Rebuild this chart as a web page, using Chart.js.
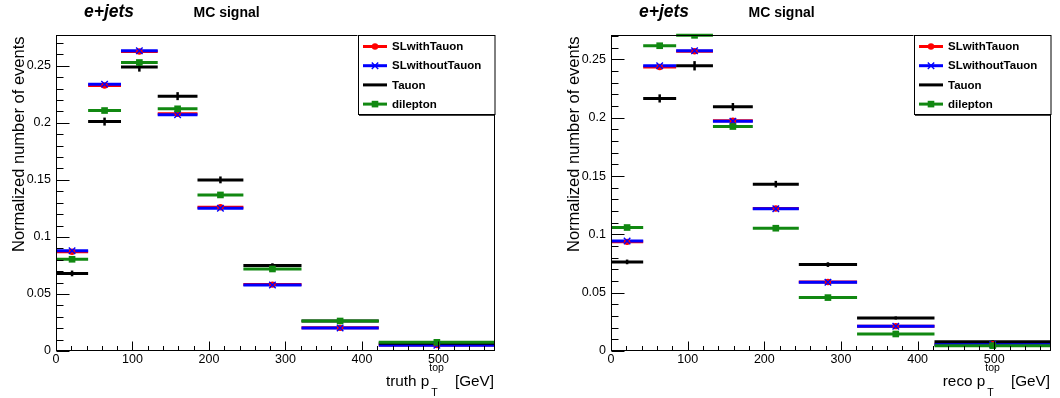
<!DOCTYPE html>
<html>
<head>
<meta charset="utf-8">
<script src="https://cdn.jsdelivr.net/npm/chart.js@4.4.1/dist/chart.umd.min.js"></script>
<style>
  html, body { margin: 0; padding: 0; background: #fff; }
  #wrap { display: flex; width: 1060px; height: 398px; }
  .pad { position: relative; width: 530px; height: 398px; }
</style>
</head>
<body>
<div id="wrap">
  <div class="pad"><canvas id="truth_chart"></canvas></div>
  <div class="pad"><canvas id="reco_chart"></canvas></div>
</div>
<script>
// bin edges of the top pT histograms [GeV]
const binEdges = [0, 42, 85, 133, 185, 245, 321, 422, 574];

// truth level
const truthSLwithTauon    = [0.0870, 0.2327, 0.2625, 0.2079, 0.1260, 0.0582, 0.0203, 0.0053];
const truthSLwithoutTauon = [0.0878, 0.2339, 0.2632, 0.2072, 0.1252, 0.0578, 0.0201, 0.0050];
const truthTauon          = [0.0680, 0.2011, 0.2489, 0.2234, 0.1500, 0.0749, 0.0263, 0.0068];
const truthTauonErr       = [0.0025, 0.0035, 0.0040, 0.0035, 0.0030, 0.0020, 0.0013, 0.0010];
const truthDilepton       = [0.0804, 0.2108, 0.2529, 0.2123, 0.1368, 0.0719, 0.0263, 0.0076];

// reco level
const recoSLwithTauon    = [0.0936, 0.2435, 0.2570, 0.1975, 0.1222, 0.0592, 0.0213, 0.0058];
const recoSLwithoutTauon = [0.0944, 0.2446, 0.2575, 0.1970, 0.1219, 0.0590, 0.0212, 0.0056];
const recoTauon          = [0.0764, 0.2166, 0.2446, 0.2094, 0.1431, 0.0741, 0.0283, 0.0080];
const recoTauonErr       = [0.0020, 0.0035, 0.0040, 0.0033, 0.0028, 0.0020, 0.0013, 0.0010];
const recoDilepton       = [0.1059, 0.2618, 0.2707, 0.1925, 0.1053, 0.0458, 0.0146, 0.0046];

const xTicks = [0, 100, 200, 300, 400, 500];
const xTickLabels = ['0', '100', '200', '300', '400', '500'];
const yTicks = [0, 0.05, 0.1, 0.15, 0.2, 0.25];
const yTickLabels = ['0', '0.05', '0.1', '0.15', '0.2', '0.25'];

const FONT = '"Liberation Sans", Arial, Helvetica, sans-serif';
const GREEN = '#118811';

function points(vals) {
  return vals.map((v, i) => ({ x: (binEdges[i] + binEdges[i + 1]) / 2, y: v }));
}

function line(ctx, x1, y1, x2, y2) {
  ctx.beginPath();
  ctx.moveTo(x1, y1);
  ctx.lineTo(x2, y2);
  ctx.stroke();
}

function marker(ctx, style, color, px, py) {
  ctx.fillStyle = color;
  ctx.strokeStyle = color;
  if (style === 'circle') {
    ctx.beginPath();
    ctx.arc(px, py, 3.2, 0, Math.PI * 2);
    ctx.fill();
  } else if (style === 'crossRot') {
    ctx.lineWidth = 1.4;
    line(ctx, px - 3.2, py - 3.2, px + 3.2, py + 3.2);
    line(ctx, px - 3.2, py + 3.2, px + 3.2, py - 3.2);
  } else if (style === 'rect') {
    ctx.fillRect(px - 3.3, py - 3.3, 6.6, 6.6);
  }
}

// ROOT-like pad: bin bars, inward ticks, frame, titles, legend
const rootPad = {
  id: 'rootPad',
  beforeDatasetsDraw(chart) {
    const ctx = chart.ctx;
    const xs = chart.scales.x, ys = chart.scales.y;
    const area = chart.chartArea;
    const metas = chart.getSortedVisibleDatasetMetas().slice().reverse();
    ctx.save();
    ctx.beginPath();
    ctx.rect(area.left, area.top - 2, area.width, area.height + 2);
    ctx.clip();
    for (const meta of metas) {
      const ds = chart.data.datasets[meta.index];
      ctx.strokeStyle = ds.borderColor;
      ds.data.forEach((p, i) => {
        const py = ys.getPixelForValue(p.y);
        ctx.lineWidth = 3;
        line(ctx, xs.getPixelForValue(binEdges[i]), py, xs.getPixelForValue(binEdges[i + 1]), py);
        if (ds.errs) {
          const px = xs.getPixelForValue(p.x);
          ctx.lineWidth = 2.5;
          line(ctx, px, ys.getPixelForValue(p.y - ds.errs[i]), px, ys.getPixelForValue(p.y + ds.errs[i]));
        }
      });
    }
    ctx.restore();
  },
  afterDraw(chart, args, opts) {
    const ctx = chart.ctx;
    const xs = chart.scales.x, ys = chart.scales.y;
    const a = chart.chartArea;
    const L = Math.round(a.left) + 0.5, R = Math.round(a.right) - 0.5;
    const T = Math.round(a.top) + 0.5, B = Math.round(a.bottom) - 0.5;
    ctx.save();
    ctx.strokeStyle = '#000';
    ctx.lineWidth = 1;
    ctx.strokeRect(L, T, R - L, B - T);

    // x ticks, minor every 20
    for (let k = 0; k * 20 <= xs.max; k++) {
      const px = Math.round(xs.getPixelForValue(k * 20)) + 0.5;
      line(ctx, px, B, px, B - (k % 5 === 0 ? 9 : 4.5));
    }
    // y ticks, minor every 0.01
    for (let k = 0; k * 0.01 <= ys.max; k++) {
      const py = Math.round(ys.getPixelForValue(k * 0.01)) + 0.5;
      line(ctx, L, py, L + (k % 5 === 0 ? 13 : 7), py);
    }

    // pad titles
    ctx.fillStyle = '#000';
    ctx.textBaseline = 'alphabetic';
    ctx.textAlign = 'left';
    ctx.font = 'italic bold 17.5px ' + FONT;
    ctx.fillText('e+jets', a.left + 28, 16.5);
    ctx.font = 'bold 14px ' + FONT;
    ctx.fillText('MC signal', a.left + 137.5, 16.5);

    // y title
    ctx.save();
    ctx.translate(a.left - 32.5, a.top + 1.5);
    ctx.rotate(-Math.PI / 2);
    ctx.textAlign = 'right';
    ctx.font = '16.5px ' + FONT;
    ctx.fillText('Normalized number of events', 0, 0);
    ctx.restore();

    // x title with sub/superscript
    const base = 386;
    ctx.font = '15.3px ' + FONT;
    const w1 = ctx.measureText(opts.xPrefix + ' p').width;
    const w3 = ctx.measureText('[GeV]').width;
    ctx.font = '10.5px ' + FONT;
    const w2 = ctx.measureText('top').width;
    let x0 = a.right - 1 - (w1 + w2 + 11 + w3);
    ctx.font = '15.3px ' + FONT;
    ctx.fillText(opts.xPrefix + ' p', x0, base);
    ctx.font = '10.5px ' + FONT;
    ctx.fillText('top', x0 + w1, base - 15);
    ctx.fillText('T', x0 + w1 + 2, base + 10);
    ctx.font = '15.3px ' + FONT;
    ctx.fillText('[GeV]', x0 + w1 + w2 + 11, base);

    // legend
    const bw = 137.5, bh = 79;
    const bx = a.right - bw;
    const by = a.top;
    ctx.fillStyle = '#fff';
    ctx.fillRect(bx, by, bw, bh);
    ctx.strokeStyle = '#000';
    ctx.lineWidth = 1;
    ctx.strokeRect(Math.round(bx) + 0.5, T, bw - 1, bh);
    ctx.lineWidth = 1.5;
    line(ctx, Math.round(bx) + 1, by + bh + 1, a.right, by + bh + 1);
    ctx.font = 'bold 11.5px ' + FONT;
    ctx.textBaseline = 'middle';
    chart.data.datasets.forEach((ds, i) => {
      const ly = by + 11.5 + i * 19.2;
      ctx.strokeStyle = ds.borderColor;
      ctx.lineWidth = 3;
      line(ctx, bx + 5.5, ly, bx + 29.5, ly);
      marker(ctx, ds.pointStyle, ds.borderColor, bx + 17.5, ly);
      ctx.fillStyle = '#000';
      ctx.fillText(ds.label, bx + 34.5, ly + 0.5);
    });
    ctx.restore();
  }
};

function makeChart(id, series, yMax, leftW, rightPad, xPrefix) {
  const ctx = document.getElementById(id).getContext('2d');
  return new Chart(ctx, {
    type: 'scatter',
    data: {
      datasets: [
        { label: 'SLwithTauon', data: points(series[0]), borderColor: '#ff0000', backgroundColor: '#ff0000',
          pointStyle: 'circle', pointRadius: 3.2, pointBorderWidth: 0, order: 4 },
        { label: 'SLwithoutTauon', data: points(series[1]), borderColor: '#0000ff', backgroundColor: '#0000ff',
          pointStyle: 'crossRot', pointRadius: 4.6, pointBorderWidth: 1.4, order: 3 },
        { label: 'Tauon', data: points(series[2]), errs: series[3], borderColor: '#000000', backgroundColor: '#000000',
          pointRadius: 0, order: 2 },
        { label: 'dilepton', data: points(series[4]), borderColor: GREEN, backgroundColor: GREEN,
          pointStyle: 'rect', pointRadius: 4.7, pointBorderWidth: 0, order: 1 },
      ],
    },
    options: {
      responsive: true,
      maintainAspectRatio: false,
      animation: false,
      events: [],
      layout: { padding: { top: 35, right: rightPad, left: 0, bottom: 0 } },
      plugins: {
        legend: { display: false },
        tooltip: { enabled: false },
        rootPad: { xPrefix: xPrefix },
      },
      scales: {
        x: {
          type: 'linear',
          min: binEdges[0],
          max: binEdges[binEdges.length - 1],
          grid: { display: false, drawTicks: false },
          border: { display: false },
          afterBuildTicks: (s) => { s.ticks = xTicks.map((v) => ({ value: v })); },
          afterFit: (s) => { s.height = 47; },
          ticks: {
            autoSkip: false, maxRotation: 0, padding: 1, color: '#000',
            font: { family: FONT, size: 12.5 },
            callback: (v, i) => xTickLabels[i],
          },
        },
        y: {
          min: 0,
          max: yMax,
          grid: { display: false, drawTicks: false },
          border: { display: false },
          afterBuildTicks: (s) => { s.ticks = yTicks.map((v) => ({ value: v })); },
          afterFit: (s) => { s.width = leftW; },
          ticks: {
            autoSkip: false, padding: 5, color: '#000',
            font: { family: FONT, size: 12.5 },
            callback: (v, i) => yTickLabels[i],
          },
        },
      },
    },
    plugins: [rootPad],
  });
}

makeChart('truth_chart',
  [truthSLwithTauon, truthSLwithoutTauon, truthTauon, truthTauonErr, truthDilepton],
  0.277, 56, 35, 'truth');
makeChart('reco_chart',
  [recoSLwithTauon, recoSLwithoutTauon, recoTauon, recoTauonErr, recoDilepton],
  0.271, 81, 9, 'reco');
</script>
</body>
</html>
